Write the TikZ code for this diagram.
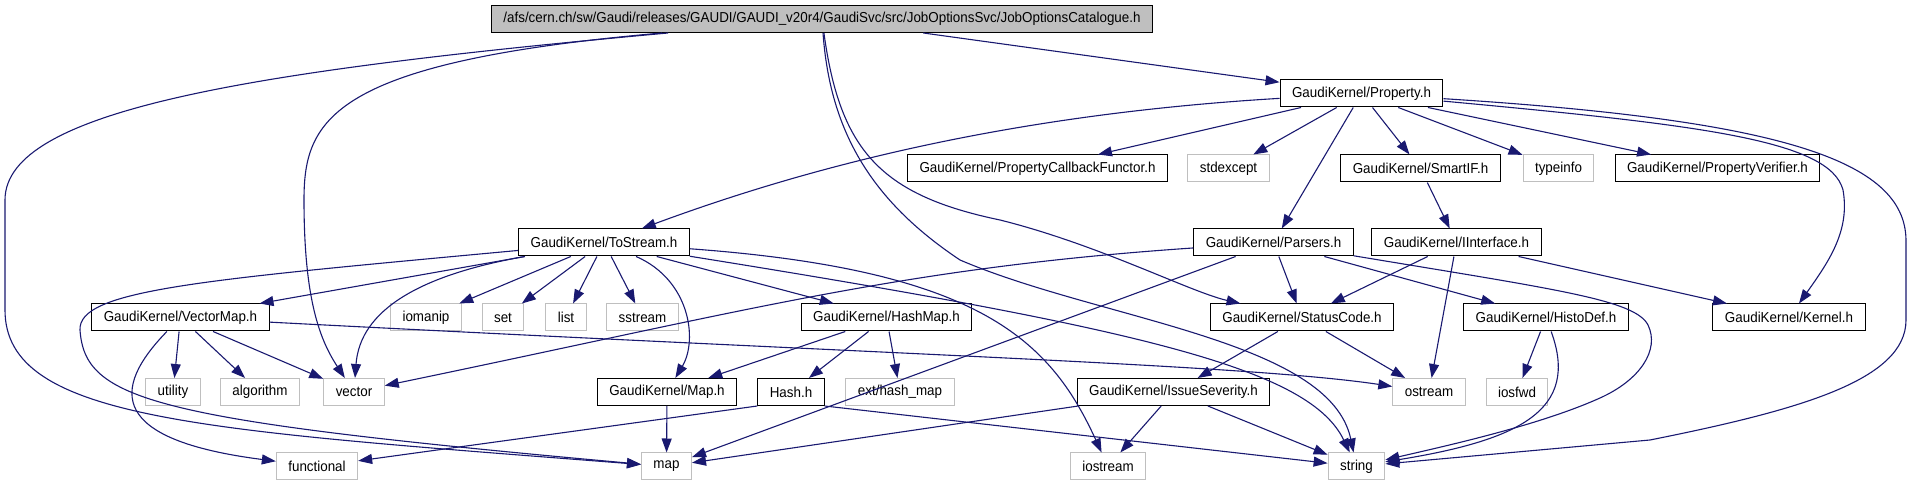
\documentclass[tikz,border=0pt]{standalone}
\usepackage{fontspec}
\setmainfont{Liberation Sans}[FakeStretch=0.93]
\usepackage{tikz}
\usetikzlibrary{arrows.meta,shapes,calc,positioning}
\definecolor{edgeblue}{HTML}{191970}
\definecolor{boxgrey}{HTML}{BFBFBF}
\tikzstyle{hdrbox} =[draw=black, line width=0.5pt, minimum height=13.5pt,
                    inner xsep=6pt, inner ysep=0pt,
                    font=\fontsize{7.2}{8}\selectfont]
\tikzstyle{sysbox} =[hdrbox, draw=boxgrey]
\tikzstyle{rootbox}=[hdrbox, fill=boxgrey]
\tikzstyle{dep}    =[draw=edgeblue, line width=0.55pt,
                    -{Triangle[length=7pt,width=5pt]}]

\begin{document}
\begin{tikzpicture}[x=0.5pt, y=-0.5pt]
                \useasboundingbox (0,0) rectangle (1912,485);

                % row 0 and 1
                \node[rootbox] (root) at (822,19) {/afs/cern.ch/sw/Gaudi/releases/GAUDI/GAUDI\_v20r4/GaudiSvc/src/JobOptionsSvc/JobOptionsCatalogue.h};
                \node[hdrbox] (prop) at (1361.5,93.5) {GaudiKernel/Property.h};

                % row 2
                \node[hdrbox] (pcf)      at (1037.5,168.5) {GaudiKernel/PropertyCallbackFunctor.h};
                \node[sysbox] (stdexc)   at (1228.5,168.5) {stdexcept};
                \node[hdrbox] (smartif)  at (1420.5,168.5) {GaudiKernel/SmartIF.h};
                \node[sysbox] (typeinfo) at (1558.5,168.5) {typeinfo};
                \node[hdrbox] (pverif)   at (1717.5,168.5) {GaudiKernel/PropertyVerifier.h};

                % row 3
                \node[hdrbox] (tostream) at (604,242.5)    {GaudiKernel/ToStream.h};
                \node[hdrbox] (parsers)  at (1273.5,242.5) {GaudiKernel/Parsers.h};
                \node[hdrbox] (iiface)   at (1456.5,242.5) {GaudiKernel/IInterface.h};

                % row 4
                \node[hdrbox] (vmap)     at (180.5,317.5)  {GaudiKernel/VectorMap.h};
                \node[sysbox] (iomanip)  at (426,317.5)    {iomanip};
                \node[sysbox] (set)      at (503,317.5)    {set};
                \node[sysbox] (list)     at (566,317.5)    {list};
                \node[sysbox] (sstream)  at (642.5,317.5)  {sstream};
                \node[hdrbox] (hashmap)  at (886.5,317.5)  {GaudiKernel/HashMap.h};
                \node[hdrbox] (statcode) at (1302,317.5)   {GaudiKernel/StatusCode.h};
                \node[hdrbox] (histodef) at (1546,317.5)   {GaudiKernel/HistoDef.h};
                \node[hdrbox] (kernel)   at (1789,317.5)   {GaudiKernel/Kernel.h};

                % row 5
                \node[sysbox] (utility)  at (173,392)    {utility};
                \node[sysbox] (algo)     at (260,392)    {algorithm};
                \node[sysbox] (vector)   at (354,392)    {vector};
                \node[hdrbox] (maph)     at (667,392)    {GaudiKernel/Map.h};
                \node[hdrbox] (hash)     at (791,392)    {Hash.h};
                \node[sysbox] (exthash)  at (900,392)    {ext/hash\_map};
                \node[hdrbox] (issue)    at (1173.5,392) {GaudiKernel/IssueSeverity.h};
                \node[sysbox] (ostream)  at (1429,392)   {ostream};
                \node[sysbox] (iosfwd)   at (1517,392)   {iosfwd};

                % row 6
                \node[sysbox] (func)     at (317,466.5)    {functional};
                \node[sysbox] (map)      at (666.5,466.5)  {map};
                \node[sysbox] (iostream) at (1108,466.5)   {iostream};
                \node[sysbox] (string)   at (1356.5,466.5) {string};

                % JobOptionsCatalogue.h
                \draw[dep] (root) to (prop);
                \draw[dep] (root) .. controls (250,71) and (5,110) .. (5,200)
                        -- (5,310) .. controls (5,420) and (200,430) .. (map);
                \draw[dep] (root) .. controls (330,62) and (304,120) .. (304,200)
                        .. controls (304,300) and (320,340) .. (vector);
                \draw[dep] (root) .. controls (830,130) and (870,200) .. (960,260)
                        .. controls (1100,320) and (1330,340) .. (string);
                \draw[dep] (root) .. controls (840,150) and (880,195) .. (1000,220)
                        .. controls (1100,245) and (1190,292) .. (statcode);

                % Property.h
                \draw[dep] (prop) .. controls (1000,115) and (800,170) .. (tostream);
                \draw[dep] (prop) to (pcf);
                \draw[dep] (prop) to (stdexc);
                \draw[dep] (prop) to (parsers);
                \draw[dep] (prop) to (smartif);
                \draw[dep] (prop) to (typeinfo);
                \draw[dep] (prop) to (pverif);
                \draw[dep] (prop) .. controls (1700,125) and (1830,140) .. (1843,190)
                        .. controls (1850,230) and (1830,260) .. (kernel);
                \draw[dep] (prop) .. controls (1780,120) and (1905,160) .. (1906,240)
                        -- (1906,320) .. controls (1906,380) and (1800,410) .. (1650,440)
                        -- (string);

                % SmartIF.h, IInterface.h
                \draw[dep] (smartif) to (iiface);
                \draw[dep] (iiface) to (statcode);
                \draw[dep] (iiface) to (ostream);
                \draw[dep] (iiface) to (kernel);

                % Parsers.h
                \draw[dep] (parsers) .. controls (900,268) and (750,310) .. (vector);
                \draw[dep] (parsers) to (map);
                \draw[dep] (parsers) to (statcode);
                \draw[dep] (parsers) to (histodef);
                \draw[dep] (parsers) .. controls (1560,290) and (1635,300) .. (1648,325)
                        .. controls (1660,350) and (1640,380) .. (1600,398)
                        .. controls (1540,425) and (1450,445) .. (string);

                % StatusCode.h, IssueSeverity.h, HistoDef.h
                \draw[dep] (statcode) to (issue);
                \draw[dep] (statcode) to (ostream);
                \draw[dep] (issue) to (map);
                \draw[dep] (issue) to (iostream);
                \draw[dep] (issue) to (string);
                \draw[dep] (histodef) to (iosfwd);
                \draw[dep] (histodef) .. controls (1580,410) and (1520,440) .. (string);

                % ToStream.h
                \draw[dep] (tostream) to (vmap);
                \draw[dep] (tostream) .. controls (420,275) and (360,310) .. (vector);
                \draw[dep] (tostream) to (iomanip);
                \draw[dep] (tostream) to (set);
                \draw[dep] (tostream) to (list);
                \draw[dep] (tostream) to (sstream);
                \draw[dep] (tostream) to (hashmap);
                \draw[dep] (tostream) .. controls (690,280) and (698,340) .. (maph);
                \draw[dep] (tostream) .. controls (200,280) and (78,290) .. (80,330)
                        .. controls (85,400) and (150,420) .. (map);
                \draw[dep] (tostream) .. controls (980,270) and (1050,340) .. (iostream);
                \draw[dep] (tostream) .. controls (1150,330) and (1310,370) .. (string);

                % VectorMap.h
                \draw[dep] (vmap) to (utility);
                \draw[dep] (vmap) to (algo);
                \draw[dep] (vmap) to (vector);
                \draw[dep] (vmap) .. controls (110,390) and (110,440) .. (func);
                \draw[dep] (vmap) .. controls (900,355) and (1250,365) .. (ostream);

                % HashMap.h, Map.h, Hash.h
                \draw[dep] (hashmap) to (maph);
                \draw[dep] (hashmap) to (hash);
                \draw[dep] (hashmap) to (exthash);
                \draw[dep] (maph) to (map);
                \draw[dep] (hash.south west) to (func);
                \draw[dep] (hash.south east) to (string);
\end{tikzpicture}
\end{document}
